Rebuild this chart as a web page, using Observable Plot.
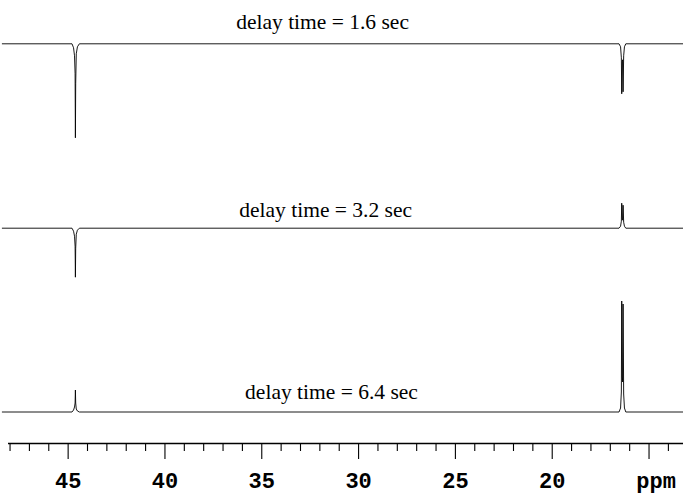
<!DOCTYPE html>
<html><head><meta charset="utf-8">
<script src="https://cdn.jsdelivr.net/npm/d3@7"></script>
<script src="https://cdn.jsdelivr.net/npm/@observablehq/plot@0.6"></script>
<style>html,body{margin:0;padding:0;background:#fff;}</style>
</head><body><div id="chart"></div>
<script>
// ---- data ----
const delayTimes = ["1.6", "3.2", "6.4"];
const titles = ["delay time = 1.6 sec", "delay time = 3.2 sec", "delay time = 6.4 sec"];
const majorTicks = [45, 40, 35, 30, 25, 20, 15];
const majorLabels = ["45", "40", "35", "30", "25", "20", ""];
const minorTicks = [48, 47, 46, 44, 43, 42, 41, 39, 38, 37, 36, 34, 33, 32, 31, 29, 28, 27, 26, 24, 23, 22, 21, 19, 18, 17, 16, 14];
const unitLabel = "ppm";

// [ppm, intensity] pairs
const spectrum16 = [
  [48.4, 0], [44.80, 0], [44.72, -4], [44.67, -12], [44.64, -30], [44.625, -94], [44.61, -40], [44.58, -10], [44.52, -3], [44.42, 0],
  [16.55, 0], [16.47, -3], [16.43, -14], [16.41, -50], [16.38, -18], [16.36, -16], [16.34, -48], [16.31, -12], [16.27, -3], [16.20, 0], [13.1, 0]
];
const spectrum32 = [
  [48.4, 0], [44.80, 0], [44.72, -3], [44.67, -8], [44.64, -18], [44.625, -49], [44.61, -20], [44.58, -6], [44.52, -2], [44.42, 0],
  [16.55, 0], [16.47, 2], [16.43, 7], [16.41, 25], [16.38, 9], [16.36, 8], [16.34, 23], [16.31, 6], [16.27, 2], [16.20, 0], [13.1, 0]
];
const spectrum64 = [
  [48.4, 0], [44.80, 0], [44.72, 2], [44.67, 5], [44.64, 9], [44.625, 22], [44.61, 9], [44.58, 3], [44.52, 1], [44.42, 0],
  [16.55, 0], [16.47, 4], [16.43, 20], [16.41, 111], [16.38, 35], [16.36, 30], [16.34, 108], [16.31, 18], [16.27, 4], [16.20, 0], [13.1, 0]
];

// ---- layout ----
const baselines = [399.7, 215.3, 31.5];   // stacking offsets of the traces
const titleX = [31.86, 31.7, 31.4];
const titleLift = [15, 11, 13];
const spectra = [spectrum16, spectrum32, spectrum64];

const rows = spectra.flatMap((s, i) => s.map(([ppm, v]) => ({trace: delayTimes[i], ppm, y: v + baselines[i]})));
const titleRows = titles.map((t, i) => ({text: t, x: titleX[i], y: baselines[i] + titleLift[i]}));

const axisFont = "'Liberation Mono', 'Courier New', monospace";

const chart = Plot.plot({
  width: 683,
  height: 494,
  marginLeft: 8,
  marginRight: 0,
  marginTop: 0,
  marginBottom: 51,
  style: {background: "#fff", fontFamily: "'Liberation Serif', 'Times New Roman', serif"},
  x: {domain: [48.08, 13.22], axis: null},
  y: {domain: [0, 443], axis: null},
  marks: [
    Plot.ruleY([0], {stroke: "#000", strokeWidth: 1.3}),
    Plot.axisX({ticks: minorTicks, tickSize: 8, tickFormat: () => "", stroke: "#000", strokeWidth: 1.1}),
    Plot.axisX({ticks: majorTicks, tickSize: 16, tickPadding: 13, tickFormat: (d) => majorLabels[majorTicks.indexOf(d)],
      fontFamily: axisFont, fontWeight: "bold", fontSize: 22, fill: "#000", stroke: "#000", strokeWidth: 1.1}),
    Plot.text([unitLabel], {x: majorTicks[majorTicks.length - 1], y: 0, text: d => d, dx: 7, dy: 29, lineAnchor: "top",
      fontFamily: axisFont, fontWeight: "bold", fontSize: 22, fill: "#000"}),
    Plot.line(rows, {x: "ppm", y: "y", z: "trace", stroke: "#000", strokeWidth: 0.9, curve: "linear"}),
    Plot.text(titleRows, {x: "x", y: "y", text: "text", lineAnchor: "bottom", fontSize: 21.5, fill: "#000",
      fontFamily: "'Liberation Serif', 'Times New Roman', serif"})
  ]
});
document.getElementById("chart").append(chart);
</script>
</body></html>
